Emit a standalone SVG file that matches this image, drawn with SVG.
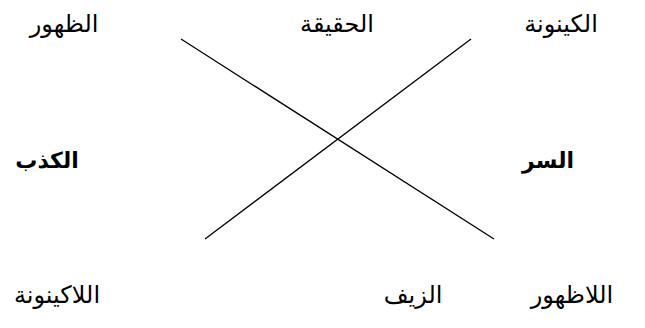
<svg xmlns="http://www.w3.org/2000/svg" width="645" height="328" viewBox="0 0 645 328">
<style>
.t{font-family:"DejaVu Sans","Noto Sans",sans-serif;font-size:24px;fill:#000;text-anchor:middle;direction:rtl}
.b{font-weight:bold;font-size:22px}
.ln{stroke:#000;stroke-width:1.3;fill:none}
</style>
<rect width="645" height="328" fill="#fff"/>
<g id="connectors">
<line class="ln" x1="181" y1="39" x2="494" y2="239"/>
<line class="ln" x1="471" y1="39" x2="205" y2="239"/>
</g>
<g id="n-zuhur"><text class="t" x="64" y="32">الظهور</text></g>
<g id="n-haqiqa"><text class="t" x="337" y="32">الحقيقة</text></g>
<g id="n-kaynuna"><text class="t" x="561" y="32">الكينونة</text></g>
<g id="n-kadhib"><text class="t b" x="47" y="168">الكذب</text></g>
<g id="n-sirr"><text class="t b" x="548" y="168">السر</text></g>
<g id="n-lakaynuna"><text class="t" x="57" y="303">اللاكينونة</text></g>
<g id="n-zayf"><text class="t" x="413" y="303">الزيف</text></g>
<g id="n-lazuhur"><text class="t" x="572" y="303">اللاظهور</text></g>
</svg>
